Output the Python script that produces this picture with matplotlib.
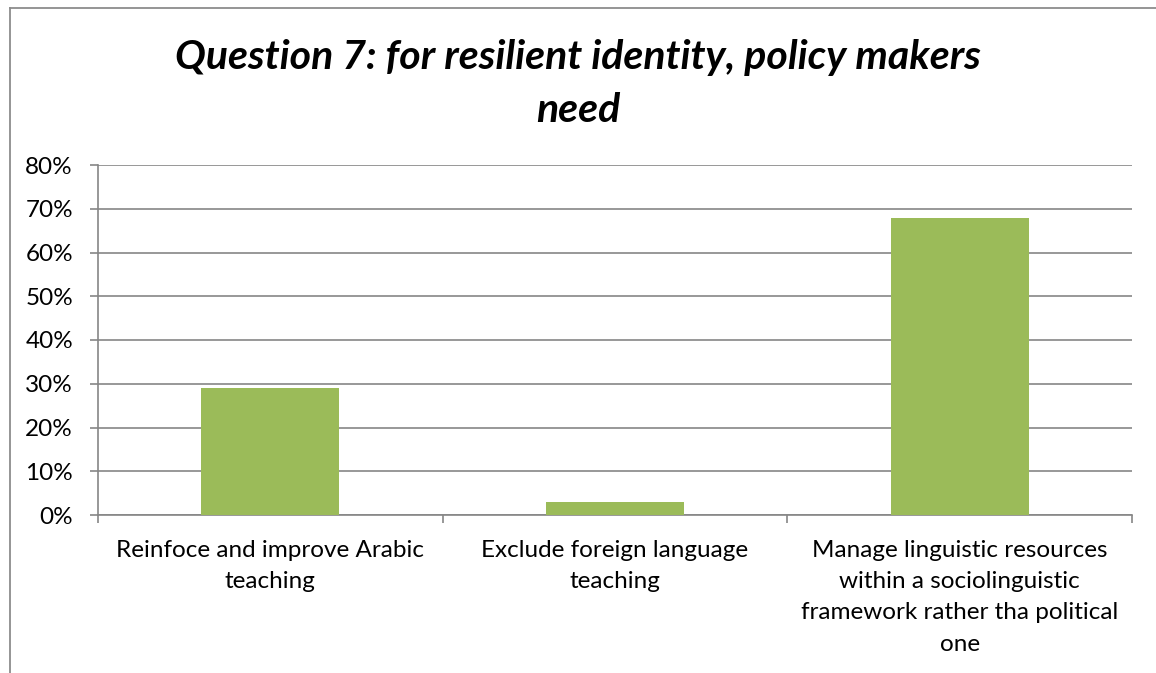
import matplotlib.pyplot as plt
from matplotlib.lines import Line2D
from matplotlib.ticker import FixedLocator, PercentFormatter

# data
categories = [
    "Reinfoce and improve Arabic\nteaching",
    "Exclude foreign language\nteaching",
    "Manage linguistic resources\nwithin a sociolinguistic\nframework rather tha political\none",
]
values = [29, 3, 68]
y_ticks = [0, 10, 20, 30, 40, 50, 60, 70, 80]
title = "Question 7: for resilient identity, policy makers\nneed"

plt.rcParams['font.family'] = ['Lato', 'DejaVu Sans']

fig = plt.figure(figsize=(11.56, 6.73), dpi=100)
ax = fig.add_axes([98 / 1156, 1 - 515 / 673, (1132 - 98) / 1156, (515 - 165) / 673])

grid_col = '#868686'
x = range(len(categories))
ax.bar(x, values, width=0.4, color='#9BBB59', zorder=3)

ax.set_xlim(-0.5, len(categories) - 0.5)
ax.set_ylim(0, 80)
ax.set_yticks(y_ticks)
ax.yaxis.set_major_formatter(PercentFormatter(decimals=0))
ax.grid(axis='y', color=grid_col, linewidth=1.2, zorder=0)

ax.set_xticks(list(x))
ax.set_xticklabels(categories, fontsize=17.5, linespacing=1.6)
ax.xaxis.set_minor_locator(FixedLocator([i - 0.5 for i in range(len(categories) + 1)]))
ax.tick_params(axis='x', which='major', length=0, pad=18)
ax.tick_params(axis='x', which='minor', length=6, width=1.2, color=grid_col)
ax.tick_params(axis='y', length=6, width=1.2, color=grid_col, labelsize=17.5, pad=12)

for side in ['top', 'right']:
    ax.spines[side].set_visible(False)
for side in ['left', 'bottom']:
    ax.spines[side].set_color(grid_col)
    ax.spines[side].set_linewidth(1.2)

fig.text(0.5, 1 - 84 / 673, title, ha='center', va='center', fontsize=29.5,
         fontweight='bold', fontstyle='italic', linespacing=1.5)

# chart frame (only top and left edges are visible in the crop)
fig.add_artist(Line2D([9.5 / 1156, 9.5 / 1156], [0, 1 - 7.5 / 673], transform=fig.transFigure,
                      color='#8c8c8c', linewidth=1.3))
fig.add_artist(Line2D([9.5 / 1156, 1], [1 - 7.5 / 673, 1 - 7.5 / 673], transform=fig.transFigure,
                      color='#8c8c8c', linewidth=1.3))

fig.savefig('out.png', dpi=100)
